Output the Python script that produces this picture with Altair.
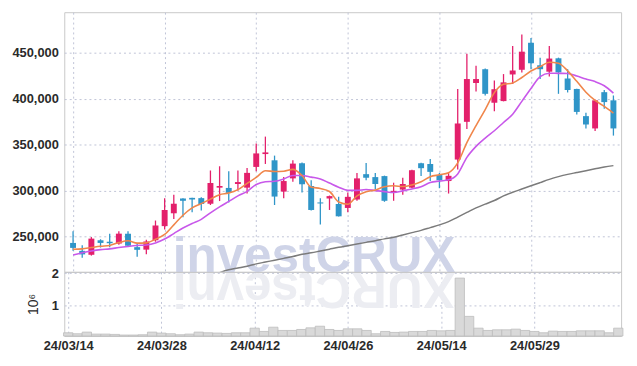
import json
import altair as alt
import pandas as pd

dates = ["24/03/14","24/03/15","24/03/18","24/03/19","24/03/20","24/03/21","24/03/22","24/03/25","24/03/26","24/03/27",
         "24/03/28","24/03/29","24/04/01","24/04/02","24/04/03","24/04/04","24/04/05","24/04/08","24/04/09","24/04/11",
         "24/04/12","24/04/15","24/04/16","24/04/17","24/04/18","24/04/19","24/04/22","24/04/23","24/04/24","24/04/25",
         "24/04/26","24/04/29","24/04/30","24/05/02","24/05/03","24/05/07","24/05/08","24/05/09","24/05/10","24/05/13",
         "24/05/14","24/05/16","24/05/17","24/05/20","24/05/21","24/05/22","24/05/23","24/05/24","24/05/27","24/05/28",
         "24/05/29","24/05/30","24/05/31","24/06/03","24/06/04","24/06/05","24/06/07","24/06/10","24/06/11","24/06/12"]

opens = [242800,234200,229900,245700,244100,242100,252900,238200,235500,245700,
         261100,275100,291200,291900,291600,285500,303000,302700,307000,303000,
         325600,339600,332800,298700,313100,329600,304800,286900,291200,285200,
         280900,290100,317700,314500,315600,297300,300900,303000,329600,328800,
         316700,310200,333600,374700,417000,432000,395500,397300,426300,431400,
         460800,436300,429300,443900,422000,410500,380900,367500,407000,398100]
highs = [255400,240300,249200,246800,252700,255400,255400,242500,246200,267200,
         291400,295200,291600,292000,292500,321700,326300,321000,321700,324500,
         351100,358600,337900,314500,332800,330300,311000,291600,294400,293000,
         297600,319100,329900,319100,316100,308400,313800,322500,330000,334200,
         319100,318800,410500,448900,435700,432800,419600,426700,457200,469700,
         466100,444600,457200,444600,432000,410800,384700,399100,409500,403400]
lows = [234200,226700,229000,237800,238200,240900,239200,227700,230600,244100,
        257500,269000,270800,276100,278000,284100,288400,286900,299500,296600,
        321000,328800,284100,291600,309500,297600,278000,262900,278700,271500,
        276100,288700,311000,301300,287600,288700,295200,302400,315600,310200,
        302400,296600,322800,366900,407700,403400,386200,397000,415900,428500,
        432000,421300,424200,405200,406700,382600,367500,364700,389000,359700]
closes = [237400,230300,247500,242800,242500,252900,239600,235300,244400,261800,
          278700,285500,288700,290100,285200,308100,304800,297300,309100,319100,
          340300,341400,293300,310200,329200,306700,278700,285800,293800,271800,
          293000,313100,313800,307000,288700,299500,307000,322000,324200,320200,
          311000,315900,372900,421300,421300,405200,410200,417700,430600,451100,
          438500,432000,443600,428500,409500,385500,371800,398100,396200,367500]
volumes = [180000,150000,200000,140000,140000,130000,110000,110000,120000,200000,
           170000,150000,120000,140000,200000,180000,170000,160000,180000,180000,
           320000,220000,350000,250000,250000,280000,330000,380000,280000,250000,
           300000,300000,250000,150000,220000,190000,200000,220000,220000,250000,
           240000,250000,1850000,680000,320000,250000,270000,270000,290000,250000,
           220000,180000,230000,220000,220000,240000,240000,240000,180000,320000]
ma5 = [236000,236300,237800,239200,240100,243200,245100,242600,242900,246800,
       252000,262500,273000,281000,285600,290500,295400,297100,300900,307700,
       314100,321400,320600,320900,322900,316200,303600,302100,298800,287400,
       285000,294000,298500,300500,304000,305000,304200,306000,309500,315000,
       317000,319300,330000,352000,370500,388000,406500,415500,417000,423000,
       430000,434800,439600,438600,430200,418800,406900,398000,391500,384200]
ma20 = [229600,232000,234000,235500,236300,237800,239000,240000,240600,242800,
        247000,253000,259000,264000,268500,275500,282000,288000,294000,299000,
        306500,309500,310000,312500,316300,316300,314500,312500,308000,303500,
        300000,300000,301000,299800,298700,297800,299500,301500,304000,308500,
        310200,311500,318000,336000,348000,357000,365000,374000,383000,397000,
        411000,424000,427700,427500,427400,424500,421300,418500,414000,406000]
ma_long = [None]*16 + [210500,213500,215500,217500,
           220000,222000,224000,226000,228000,230500,232000,234000,236000,238000,
           239800,241600,243400,245200,247200,249000,251500,254000,256500,259500,
           262500,266000,271000,276000,281000,285000,289000,294000,298000,301500,
           305000,308500,312000,315000,317500,319500,321500,323500,325500,327000]

tick_idx = [0, 10, 20, 30, 40, 50]
price_ticks = [250000, 300000, 350000, 400000, 450000]
vol_ticks = [1000000, 2000000]

n = len(dates)
df = pd.DataFrame({
    "i": list(range(n)), "date": dates, "open": opens, "high": highs,
    "low": lows, "close": closes, "volume": volumes,
    "ma5": ma5, "ma20": ma20, "ma_long": ma_long,
})
df["dir"] = ["up" if c >= o else "down" for o, c in zip(opens, closes)]

W, H1, H2 = 564, 263, 65
FONT = "Liberation Sans"
LBL = dict(labelFont=FONT, labelFontSize=13, labelFontWeight="bold", labelColor="#2a2a2a",
           gridDash=[2, 3], gridColor="#bfc3d6", gridWidth=1)
xscale = alt.Scale(domain=[-0.42, 59.3], nice=False, zero=False)
label_expr = json.dumps(dates) + "[datum.value]"

x_top = alt.X("i:Q", scale=xscale,
              axis=alt.Axis(values=tick_idx, labels=False, ticks=False, domain=False, title=None,
                            grid=True, minExtent=0, maxExtent=0, labelPadding=0,
                            gridDash=[2, 3], gridColor="#bfc3d6", gridWidth=1))
y_price = alt.Scale(domain=[211300, 494100], nice=False, zero=False)
color = alt.Color("dir:N", scale=alt.Scale(domain=["up", "down"], range=["#e3206b", "#2f95c8"]), legend=None)

base = alt.Chart(df)

wm = alt.Chart(pd.DataFrame({"t": ["investCRUX"]})).mark_text(
    font="Liberation Sans", fontWeight="bold", fontSize=50, color="#cfd4e8",
    align="center", baseline="alphabetic").encode(
    text="t:N", x=alt.value(253), y=alt.value(263))

wicks = base.mark_rule(strokeWidth=1.3).encode(
    x=x_top,
    y=alt.Y("low:Q", scale=y_price,
            axis=alt.Axis(values=price_ticks, format=",d", title=None, grid=True, ticks=False,
                          domain=False, labelPadding=6, **LBL)),
    y2="high:Q", color=color)
bodies = base.mark_bar(size=6).encode(x=x_top, y="open:Q", y2="close:Q", color=color)

line_long = base.transform_filter("isValid(datum.ma_long)").mark_line(
    clip=True, interpolate="monotone", strokeWidth=1.5, color="#7b7b7b").encode(x=x_top, y="ma_long:Q")
line20 = base.mark_line(clip=True, interpolate="monotone", strokeWidth=1.6, color="#c858ea").encode(
    x=x_top, y="ma20:Q")
line5 = base.mark_line(clip=True, interpolate="monotone", strokeWidth=1.6, color="#f0864b").encode(
    x=x_top, y="ma5:Q")

price = alt.layer(wm, line_long, wicks, bodies, line20, line5).properties(width=W, height=H1)

refl = alt.Chart(pd.DataFrame({"t": ["XURCtsevni"]})).mark_text(
    font="Liberation Sans", fontWeight="bold", fontSize=50, color="#ecedf2",
    align="center", baseline="alphabetic", angle=180).encode(
    text="t:N", x=alt.value(253), y=alt.value(1))

vbars = base.transform_calculate(x0="datum.i - 0.5", x1="datum.i + 0.5").mark_bar(
    fill="#d9d9d9", stroke="#bdbdbd", strokeWidth=0.8).encode(
    x=alt.X("x0:Q", scale=xscale,
            axis=alt.Axis(values=tick_idx, labelExpr=label_expr, title=None, grid=True, ticks=False,
                          domain=False, labelPadding=4, **LBL)),
    x2="x1:Q",
    y=alt.Y("volume:Q", scale=alt.Scale(domain=[80000, 2040000], nice=False, zero=False),
            axis=alt.Axis(values=vol_ticks, labelExpr="datum.value / 1000000", title="10⁶",
                          titleFont=FONT, titleColor="#2a2a2a",
                          titleFontWeight="normal", titleFontSize=14, titlePadding=11,
                          grid=True, ticks=False, domain=False, labelPadding=6, **LBL)),
    y2=alt.value(H2))

vol = alt.layer(refl, vbars).properties(width=W, height=H2)

chart = alt.vconcat(price, vol, spacing=0, bounds="flush").properties(
    padding={"left": 3, "top": 1, "right": 5, "bottom": 2},
    background="white"
).configure_view(stroke="#c8c8c8")

chart.save("out.html", embed_options={"renderer": "svg", "actions": False})
